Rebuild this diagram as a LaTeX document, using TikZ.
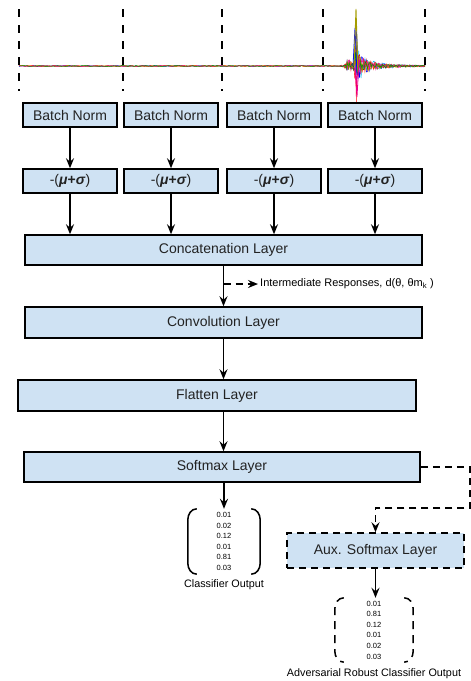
\documentclass[tikz,border=0pt]{standalone}
\usepackage{fontspec}
\setmainfont{Liberation Sans}
\usetikzlibrary{calc, arrows.meta, positioning}

\definecolor{layerblue}{HTML}{CFE2F3}
\definecolor{textgray}{HTML}{222222}

\tikzset{
  layer/.style={draw, line width=1.5pt, fill=layerblue, minimum width=397pt,
    minimum height=30pt, inner sep=0pt, text=textgray, font=\fontsize{14}{16}\selectfont},
  smallbox/.style={layer, minimum width=94pt, minimum height=24pt},
  arr/.style={line width=1.6pt, -{Stealth[length=10pt,width=8pt,inset=3.5pt]}},
  dasharr/.style={arr, dash pattern=on 7pt off 5pt},
  probs/.style={align=center, font=\fontsize{7.5}{10.6}\selectfont, inner sep=0pt},
  captext/.style={font=\fontsize{10.8}{12}\selectfont, inner sep=0pt},
  bracket/.style={line width=1.5pt}
}

\begin{document}
\begin{tikzpicture}[x=1pt, y=-1pt]
\useasboundingbox (0,0) rectangle (471,681);

% windows of the input signal
\foreach \x in {19,123,222,323,425}
  \draw[line width=2pt, dash pattern=on 8pt off 8pt] (\x,9) -- (\x,91);

\pgfmathsetseed{11}
\foreach \c/\a in {cyan/1, blue/0.8, red/0.8, orange/0.7, olive/0.6, magenta/0.7, green!60!black/0.5}{
  \draw[\c, line width=0.4pt] plot[domain=19:340, samples=160] (\x, {66+0.6*rand});
  \draw[\c, line width=0.5pt] plot[domain=340:425, samples=110]
    (\x, {66 + rand*(0.8 + \a*ifthenelse(\x<356,
        40*exp(min(0,max(-9,(\x-356)/1.2))) + 8*exp(min(0,max(-9,-((\x-349)^2)/10))),
        40*exp(min(0,max(-9,-(\x-356)/1.5))) + 15*exp(min(0,max(-9,-(\x-356)/14)))))});
}
\draw[blue, line width=0.8pt] (353,66) -- (355,28) -- (357,75);
\draw[olive!80!yellow, line width=0.9pt] (354,66) -- (356,9) -- (358,72);
\draw[magenta, line width=0.8pt] (355,66) -- (357,97) -- (359,60);

% per-window layers
\foreach \i/\x in {1/70,2/171,3/274,4/375}{
  \node[smallbox] (bn\i) at (\x,115) {Batch Norm};
  \node[smallbox] (mu\i) at (\x,181) {-(\textbf{\textit{μ}}\textbf{+}\textbf{\textit{σ}})};
  \draw[arr] (bn\i) -- (mu\i);
}

\node[layer] (concat) at (223.5,250) {Concatenation Layer};
\foreach \i in {1,...,4}
  \draw[arr] (mu\i) -- (mu\i |- concat.north);

\node[layer, minimum height=31pt] (conv) at (223.5,322.5) {Convolution Layer};
\node[layer, minimum width=398pt, minimum height=31pt] (flatten) at (217,395.5) {Flatten Layer};
\node[layer, minimum width=396pt] (softmax) at (222,467) {Softmax Layer};

\draw[arr] (concat) -- (conv);
\coordinate (branch) at (223.5,284);
\node[anchor=west, inner sep=2pt, font=\fontsize{11}{13}\selectfont] (inter) at (258,284)
  {Intermediate Responses, d(θ, θm\textsubscript{k} )};
\draw[dasharr] (branch) -- (inter.west);

\draw[arr] (conv.south) -- (conv.south |- flatten.north);
\draw[arr] (conv.south |- flatten.south) -- (conv.south |- softmax.north);

% classifier output
\node[minimum width=72pt, minimum height=65pt, inner sep=0pt] (outbox) at (224,541.5) {};
\node[probs] (outvals) at (outbox) {0.01\\0.02\\0.12\\0.01\\0.81\\0.03};
\draw[bracket] ([xshift=9pt]outbox.north west) to[out=180,in=90] ([yshift=-11pt]outbox.north west)
  -- ([yshift=11pt]outbox.south west) to[out=-90,in=180] ([xshift=9pt]outbox.south west);
\draw[bracket] ([xshift=-9pt]outbox.north east) to[out=0,in=90] ([yshift=-11pt]outbox.north east)
  -- ([yshift=11pt]outbox.south east) to[out=-90,in=0] ([xshift=-9pt]outbox.south east);
\node[captext, below=5pt of outbox] (outlabel) {Classifier Output};
\draw[arr] (softmax.south -| outbox.north) -- (outbox.north);

% auxiliary branch
\node[layer, dash pattern=on 7pt off 5pt, minimum width=177pt, minimum height=35pt] (aux)
  at (375.5,550.5) {Aux. Softmax Layer};
\coordinate (turn) at (470,508);
\draw[dasharr] (softmax.east) -| (turn) -- (turn -| aux.north) -- (aux.north);

\node[minimum width=78pt, minimum height=64pt, inner sep=0pt] (advbox) at (374,630) {};
\node[probs] (advvals) at (advbox) {0.01\\0.81\\0.12\\0.01\\0.02\\0.03};
\draw[bracket, dash pattern=on 8pt off 6pt] ([xshift=9pt]advbox.north west) to[out=180,in=90] ([yshift=-11pt]advbox.north west)
  -- ([yshift=11pt]advbox.south west) to[out=-90,in=180] ([xshift=9pt]advbox.south west);
\draw[bracket, dash pattern=on 8pt off 6pt] ([xshift=-9pt]advbox.north east) to[out=0,in=90] ([yshift=-11pt]advbox.north east)
  -- ([yshift=11pt]advbox.south east) to[out=-90,in=0] ([xshift=-9pt]advbox.south east);
\node[captext, below=6pt of advbox] (advlabel) {Adversarial Robust Classifier Output};
\draw[arr] (aux.south) -- (aux.south |- advbox.north);
\end{tikzpicture}
\end{document}
